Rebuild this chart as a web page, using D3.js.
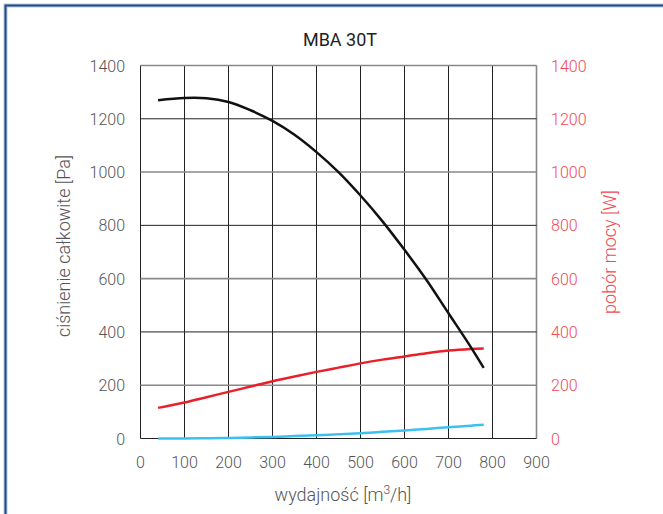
<!DOCTYPE html>
<html lang="pl">
<head>
  <meta charset="UTF-8">
  <title>MBA 30T</title>
  <script src="https://d3js.org/d3.v7.min.js"></script>
  <style>
    body { margin: 0; background: #fff; }
    svg { display: block; font-family: Roboto, sans-serif; }
    .tick-label { font-size: 16px; fill: #555; font-weight: 300; }
    .tick-label.right { fill: #f04a55; }
    .axis-label { font-size: 18px; fill: #555; font-weight: 300; }
    .axis-label.right { fill: #f04a55; }
    .title { font-size: 18px; fill: #222; font-weight: 400; }
  </style>
</head>
<body>
<script>
  // flow [m3/h]
  const flow = [40, 100, 150, 200, 250, 300, 350, 400, 450, 500, 550, 600, 650, 700, 750, 780];
  // total pressure [Pa]
  const pressure = [1270, 1278, 1277, 1263, 1232, 1192, 1140, 1075, 1000, 912, 815, 708, 595, 470, 345, 265];
  // power draw [W] - red
  const power = [115, 135, 155, 175, 195, 215, 233, 250, 266, 282, 296, 308, 320, 330, 336, 338];
  // second power curve - blue
  const power2 = [0, 0, 1, 2, 4, 6, 9, 12, 16, 20, 25, 30, 36, 42, 48, 52];

  const xTicks = [0, 100, 200, 300, 400, 500, 600, 700, 800, 900];
  const yTicks = [0, 200, 400, 600, 800, 1000, 1200, 1400];

  const W = 663, H = 514;
  const svg = d3.select("body").append("svg").attr("width", W).attr("height", H);

  // frame
  svg.append("path").attr("d", `M5.5,${H} V5.5 H${W}`)
     .attr("fill", "none").attr("stroke", "#b8c8dc").attr("stroke-width", 4);
  svg.append("path").attr("d", `M5.5,${H} V5.5 H${W}`)
     .attr("fill", "none").attr("stroke", "#1c4d8c").attr("stroke-width", 2);

  const x = d3.scaleLinear().domain([0, 900]).range([140.5, 536.5]);
  const y = d3.scaleLinear().domain([0, 1400]).range([438.5, 65.5]);

  // vertical grid
  svg.append("g").selectAll("line").data(xTicks).join("line")
     .attr("x1", d => x(d)).attr("x2", d => x(d))
     .attr("y1", y(0)).attr("y2", y(1400))
     .attr("stroke", d => d === 900 ? "#888" : "#222")
     .attr("stroke-width", d => d === 900 ? 1.6 : 1);

  // horizontal grid
  svg.append("g").selectAll("line").data(yTicks).join("line")
     .attr("x1", x(0)).attr("x2", x(900))
     .attr("y1", d => y(d)).attr("y2", d => y(d))
     .attr("stroke", d => (d / 200) % 2 === 1 ? "#888" : "#222")
     .attr("stroke-width", d => (d / 200) % 2 === 1 ? 1.6 : 1);

  // tick labels
  svg.append("g").selectAll("text").data(yTicks).join("text")
     .attr("class", "tick-label").attr("x", 125).attr("y", d => y(d) + 6)
     .attr("text-anchor", "end").text(d => d);
  svg.append("g").selectAll("text").data(yTicks).join("text")
     .attr("class", "tick-label right").attr("x", 551).attr("y", d => y(d) + 6)
     .attr("text-anchor", "start").text(d => d);
  svg.append("g").selectAll("text").data(xTicks).join("text")
     .attr("class", "tick-label").attr("x", d => x(d)).attr("y", 468)
     .attr("text-anchor", "middle").text(d => d);

  // labels
  svg.append("text").attr("class", "title").attr("x", 340).attr("y", 46)
     .attr("text-anchor", "middle").text("MBA 30T");

  const xl = svg.append("text").attr("class", "axis-label").attr("x", 343).attr("y", 501)
     .attr("text-anchor", "middle");
  xl.append("tspan").text("wydajność [m");
  xl.append("tspan").attr("dy", -7).attr("font-size", 12).text("3");
  xl.append("tspan").attr("dy", 7).text("/h]");

  svg.append("text").attr("class", "axis-label")
     .attr("transform", `translate(70,${y(700) - 6}) rotate(-90)`)
     .attr("text-anchor", "middle").text("ciśnienie całkowite [Pa]");
  svg.append("text").attr("class", "axis-label right")
     .attr("transform", `translate(616,${y(700)}) rotate(-90)`)
     .attr("text-anchor", "middle").text("pobór mocy [W]");

  // curves
  const line = vals => d3.line().curve(d3.curveCatmullRom)
     .x((d, i) => x(flow[i])).y(d => y(d))(vals);

  svg.append("path").attr("d", line(power2)).attr("fill", "none")
     .attr("stroke", "#3cc0f0").attr("stroke-width", 2.5);
  svg.append("path").attr("d", line(power)).attr("fill", "none")
     .attr("stroke", "#e8202a").attr("stroke-width", 2.5);
  svg.append("path").attr("d", line(pressure)).attr("fill", "none")
     .attr("stroke", "#111").attr("stroke-width", 2.5);
</script>
</body>
</html>
